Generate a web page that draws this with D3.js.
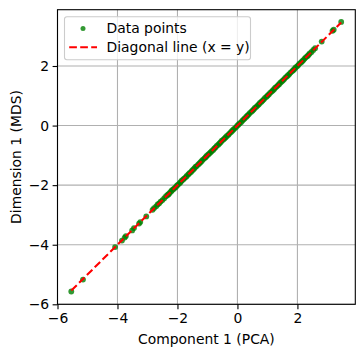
<!DOCTYPE html>
<html>
<head>
<meta charset="utf-8">
<script src="https://cdn.jsdelivr.net/npm/d3@7"></script>
<style>
  html, body { margin: 0; padding: 0; background: #fff; }
  svg { display: block; font-family: "DejaVu Sans", sans-serif; }
</style>
</head>
<body>
<svg id="chart" width="364" height="355"></svg>
<script>
const pcaValues = [-5.54, -5.15, -4.08, -3.85, -3.76, -3.72, -3.51, -3.45, -3.28, -3.24, -3.04,
  -2.83, -2.78, -2.71, -2.66, -2.61, -2.56, -2.50, -2.44, -2.38,
  -2.33, -2.30, -2.27, -2.22, -2.19, -2.15, -2.11, -2.06, -2.02, -1.98, -1.93, -1.90, -1.86, -1.81,
  -1.77, -1.72, -1.69, -1.64, -1.60, -1.55, -1.52, -1.48, -1.44, -1.40, -1.36, -1.31, -1.27, -1.23,
  -1.19, -1.15, -1.10, -1.06, -1.03, -0.98, -0.94, -0.90, -0.86, -0.81, -0.77, -0.73, -0.69, -0.64,
  -0.60, -0.56, -0.52, -0.47, -0.43, -0.39, -0.35, -0.30, -0.27, -0.22, -0.18, -0.14, -0.10, -0.05,
  -0.01, 0.03, 0.07, 0.12, 0.16, 0.20, 0.24, 0.29, 0.33, 0.37, 0.41, 0.46, 0.50, 0.54, 0.58, 0.63,
  0.67, 0.71, 0.75, 0.80, 0.84, 0.88, 0.92, 0.97, 1.01, 1.05, 1.09, 1.14, 1.18, 1.22, 1.26, 1.31,
  1.35, 1.39, 1.43, 1.48, 1.52, 1.56, 1.60, 1.65, 1.69, 1.73, 1.77, 1.82, 1.86, 1.90, 1.94, 1.99,
  2.03, 2.07, 2.12, 2.16, 2.20, 2.24, 2.28, 2.33, 2.37, 2.41, 2.47,
  2.53, 2.59, 2.81, 3.17, 3.21, 3.46];
const mdsValues = [-5.57, -5.17, -4.08, -3.86, -3.76, -3.71, -3.52, -3.44, -3.29, -3.24, -3.05,
  -2.83, -2.77, -2.71, -2.65, -2.61, -2.55, -2.50, -2.44, -2.37,
  -2.33, -2.31, -2.27, -2.22, -2.18, -2.15, -2.11, -2.07, -2.02, -1.98, -1.94, -1.90, -1.85, -1.81,
  -1.77, -1.73, -1.69, -1.64, -1.60, -1.56, -1.52, -1.48, -1.44, -1.39, -1.36, -1.31, -1.27, -1.23,
  -1.19, -1.14, -1.10, -1.06, -1.02, -0.98, -0.94, -0.90, -0.86, -0.82, -0.77, -0.73, -0.68, -0.64,
  -0.60, -0.56, -0.51, -0.47, -0.43, -0.39, -0.35, -0.31, -0.27, -0.22, -0.18, -0.14, -0.10, -0.06,
  -0.01, 0.03, 0.07, 0.11, 0.16, 0.20, 0.24, 0.29, 0.33, 0.37, 0.42, 0.46, 0.50, 0.54, 0.59, 0.63,
  0.67, 0.71, 0.76, 0.80, 0.84, 0.88, 0.93, 0.97, 1.01, 1.05, 1.10, 1.14, 1.18, 1.22, 1.27, 1.31,
  1.35, 1.39, 1.44, 1.48, 1.52, 1.56, 1.61, 1.65, 1.69, 1.73, 1.78, 1.82, 1.86, 1.90, 1.95, 1.99,
  2.03, 2.08, 2.12, 2.16, 2.20, 2.25, 2.29, 2.33, 2.37, 2.42, 2.47,
  2.54, 2.60, 2.82, 3.18, 3.22, 3.48];
const xTicks = [-6, -4, -2, 0, 2];
const yTicks = [-6, -4, -2, 0, 2];
const xLabel = "Component 1 (PCA)";
const yLabel = "Dimension 1 (MDS)";
const legendLabels = ["Data points", "Diagonal line (x = y)"];
const xDomain = [-6.0, 3.93];
const yDomain = [-6.0, 3.89];

const svg = d3.select("#chart");
const L = 57.5, R = 355.3, T = 9.7, B = 304.3;
const x = d3.scaleLinear().domain(xDomain).range([L, R]);
const y = d3.scaleLinear().domain(yDomain).range([B, T]);
const fs = 13.9;
const rPt = 2.9;

// grid
const grid = svg.append("g");
grid.selectAll(".gx").data(xTicks).join("line")
  .attr("x1", d => x(d)).attr("x2", d => x(d)).attr("y1", T).attr("y2", B)
  .attr("stroke", "#b0b0b0").attr("stroke-width", 1.1);
grid.selectAll(".gy").data(yTicks).join("line")
  .attr("y1", d => y(d)).attr("y2", d => y(d)).attr("x1", L).attr("x2", R)
  .attr("stroke", "#b0b0b0").attr("stroke-width", 1.1);

// points
const pts = pcaValues.map((v, i) => [v, mdsValues[i]]);
svg.append("g").selectAll("circle").data(pts).join("circle")
  .attr("cx", d => x(d[0])).attr("cy", d => y(d[1])).attr("r", rPt)
  .attr("fill", "green").attr("fill-opacity", 0.8);

// diagonal
const lo = d3.min(pcaValues), hi = d3.max(pcaValues);
svg.append("line")
  .attr("x1", x(lo)).attr("y1", y(lo)).attr("x2", x(hi)).attr("y2", y(hi))
  .attr("stroke", "red").attr("stroke-width", 2.08)
  .attr("stroke-dasharray", "7.7,3.3");

// axes
const xAxis = d3.axisBottom(x).tickValues(xTicks).tickSize(4.9).tickPadding(3.5)
  .tickFormat(d => d < 0 ? "\u2212" + Math.abs(d) : d);
const yAxis = d3.axisLeft(y).tickValues(yTicks).tickSize(4.9).tickPadding(3.5)
  .tickFormat(d => d < 0 ? "\u2212" + Math.abs(d) : d);
const gx = svg.append("g").attr("transform", `translate(0,${B})`).call(xAxis);
const gy = svg.append("g").attr("transform", `translate(${L},0)`).call(yAxis);
[gx, gy].forEach(g => {
  g.select(".domain").remove();
  g.selectAll("line").attr("stroke", "#000").attr("stroke-width", 1.1);
  g.selectAll("text").attr("font-size", fs).attr("fill", "#000")
    .attr("font-family", "DejaVu Sans");
});

// spines
svg.append("rect").attr("x", L).attr("y", T).attr("width", R - L).attr("height", B - T)
  .attr("fill", "none").attr("stroke", "#000").attr("stroke-width", 1.1);

// axis labels
svg.append("text").attr("x", (L + R) / 2).attr("y", 344).attr("text-anchor", "middle")
  .attr("font-size", fs).text(xLabel);
svg.append("text").attr("transform", `translate(21,${(T + B) / 2}) rotate(-90)`)
  .attr("text-anchor", "middle").attr("font-size", fs).text(yLabel);

// legend
const lg = svg.append("g").attr("transform", `translate(${L + 7},${T + 7})`);
lg.append("rect").attr("x", 0).attr("y", 0).attr("width", 186).attr("height", 43)
  .attr("rx", 2.5).attr("fill", "#fff").attr("fill-opacity", 0.8)
  .attr("stroke", "#cccccc").attr("stroke-width", 1.1);
lg.append("circle").attr("cx", 18.5).attr("cy", 11.8).attr("r", 2.5)
  .attr("fill", "green").attr("fill-opacity", 0.8);
lg.append("line").attr("x1", 4.7).attr("x2", 32.5).attr("y1", 30.5).attr("y2", 30.5)
  .attr("stroke", "red").attr("stroke-width", 2.08).attr("stroke-dasharray", "7.7,3.3");
lg.selectAll(".lt").data(legendLabels).join("text")
  .attr("x", 42).attr("y", (d, i) => 16.6 + i * 18.6)
  .attr("font-size", fs).text(d => d);
</script>
</body>
</html>
